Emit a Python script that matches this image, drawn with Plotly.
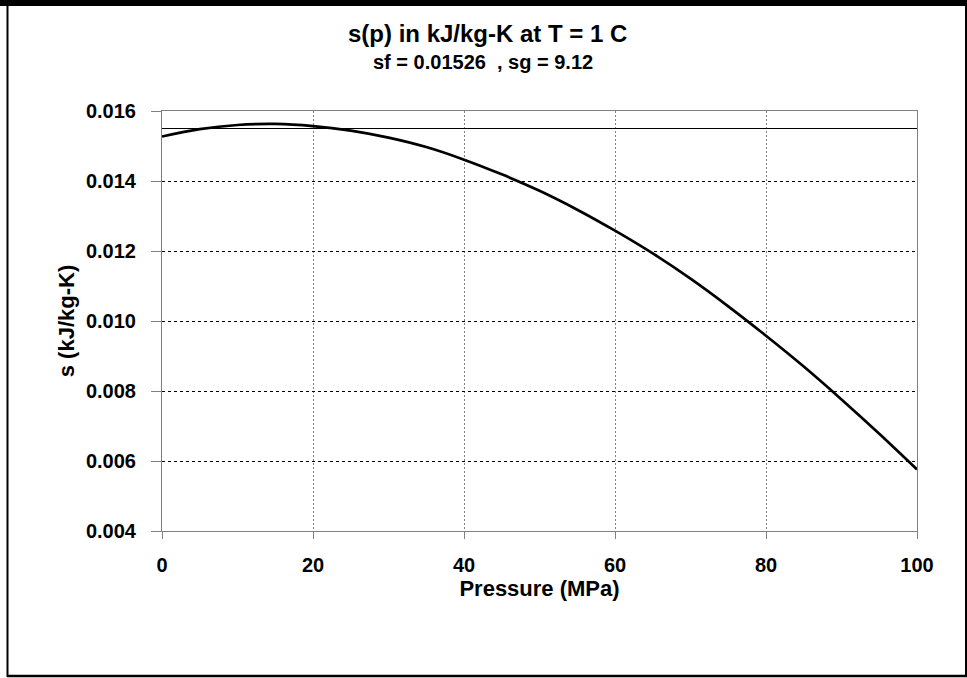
import plotly.graph_objects as go

# Data
pressure_mpa = [0, 5, 10, 15, 20, 25, 30, 35, 40, 45, 50, 55, 60, 65, 70, 75, 80, 85, 90, 95, 100]
entropy_s = [0.01527, 0.01548, 0.01560, 0.01563, 0.01557, 0.01544, 0.01524, 0.01497, 0.01461,
             0.01419, 0.01372, 0.01318, 0.01258, 0.01193, 0.01121, 0.01042, 0.00958, 0.00870,
             0.00776, 0.00678, 0.00576]
ref_line_x = [0, 100]
ref_line_y = [0.0155, 0.0155]

title_main = "s(p) in kJ/kg-K at T = 1 C"
title_sub = "sf = 0.01526&nbsp;&nbsp;, sg = 9.12"
x_title = "Pressure (MPa)"
y_title = "s (kJ/kg-K)"

W, H = 967, 678
L, R, T, B = 162, 50, 111, 147
pw, ph = W - L - R, H - T - B

def px(x):
    return (x - L) / pw

def py(y):
    return (H - B - y) / ph

fig = go.Figure()
fig.add_trace(go.Scatter(x=ref_line_x, y=ref_line_y, mode="lines",
                         line=dict(color="black", width=1), showlegend=False, hoverinfo="skip"))
fig.add_trace(go.Scatter(x=pressure_mpa, y=entropy_s, mode="lines",
                         line=dict(color="black", width=2.7, shape="spline"), showlegend=False))

font_family = "Arial, Liberation Sans, sans-serif"

fig.update_layout(
    width=W, height=H,
    margin=dict(l=L, r=R, t=T, b=B),
    paper_bgcolor="white", plot_bgcolor="white",
    font=dict(family=font_family, color="black"),
    showlegend=False,
)

fig.update_xaxes(
    range=[0, 100], dtick=20, tick0=0,
    showline=True, linecolor="#808080", linewidth=1, mirror=True,
    showgrid=True, gridcolor="#808080", gridwidth=1, griddash="2px,2px",
    ticks="outside", ticklen=7, tickcolor="#808080", tickwidth=1,
    tickfont=dict(size=20, family=font_family, weight="bold", color="black"),
    ticklabelstandoff=9,
    zeroline=False,
    title=dict(text=x_title, font=dict(size=22, family=font_family, weight="bold"), standoff=4),
)
fig.update_yaxes(
    range=[0.004, 0.016], dtick=0.002, tick0=0.004, tickformat=".3f",
    showline=True, linecolor="#808080", linewidth=1, mirror=True,
    showgrid=True, gridcolor="black", gridwidth=1, griddash="3px,3px",
    ticks="outside", ticklen=10, tickcolor="#808080", tickwidth=1,
    tickfont=dict(size=20, family=font_family, weight="bold", color="black"),
    ticklabelstandoff=11,
    zeroline=False,
    title=dict(text=y_title, font=dict(size=22, family=font_family, weight="bold"), standoff=5),
)

fig.add_annotation(text="<b>" + title_main + "</b>", xref="paper", yref="paper",
                   x=px(487), y=py(33), showarrow=False,
                   font=dict(size=24, family=font_family, color="black"),
                   xanchor="center", yanchor="middle")
fig.add_annotation(text="<b>" + title_sub + "</b>", xref="paper", yref="paper",
                   x=px(483), y=py(62), showarrow=False,
                   font=dict(size=20, family=font_family, color="black"),
                   xanchor="center", yanchor="middle")

# outer frame
fig.add_shape(type="rect", xref="paper", yref="paper", x0=px(0), x1=px(967), y0=py(0), y1=py(6),
              fillcolor="black", line=dict(width=0), layer="above")
fig.add_shape(type="line", xref="paper", yref="paper", x0=px(7.5), x1=px(7.5), y0=py(0), y1=py(677),
              line=dict(color="black", width=2), layer="above")
fig.add_shape(type="line", xref="paper", yref="paper", x0=px(966), x1=px(966), y0=py(0), y1=py(677),
              line=dict(color="black", width=2), layer="above")
fig.add_shape(type="line", xref="paper", yref="paper", x0=px(7), x1=px(967), y0=py(676), y1=py(676),
              line=dict(color="black", width=2.5), layer="above")

fig.write_html("out.html")
